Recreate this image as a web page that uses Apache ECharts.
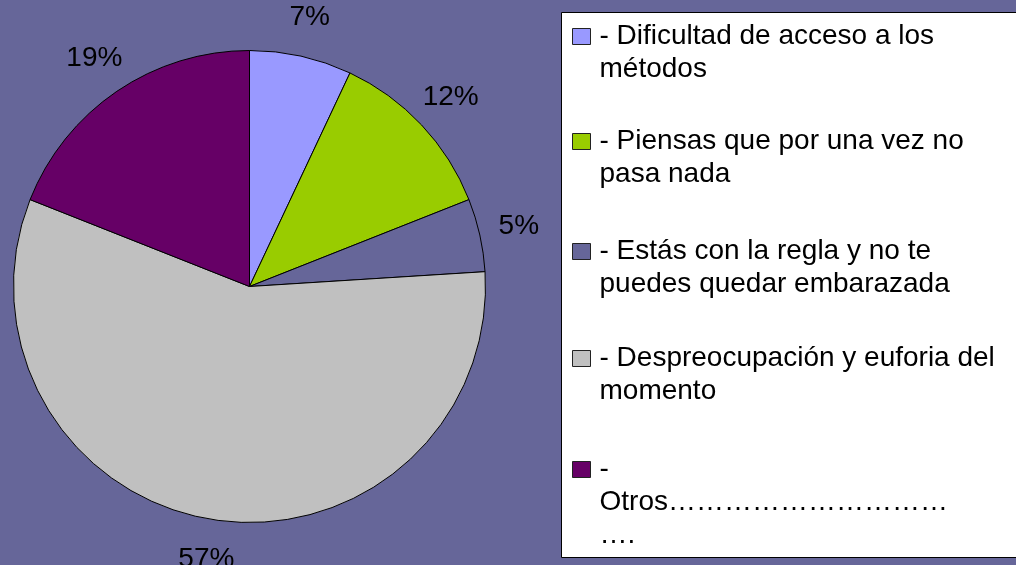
<!DOCTYPE html>
<html>
<head>
<meta charset="utf-8">
<script src="https://cdn.jsdelivr.net/npm/echarts@6/dist/echarts.min.js"></script>
<style>
  html, body { margin: 0; padding: 0; background: #666699; }
  #chart { width: 1016px; height: 565px; }
</style>
</head>
<body>
<div id="chart"></div>
<script>
// slice names, as they wrap in the legend box
let categories = [
    '- Dificultad de acceso a los\nmétodos',
    '- Piensas que por una vez no\npasa nada',
    '- Estás con la regla y no te\npuedes quedar embarazada',
    '- Despreocupación y euforia del\nmomento',
    '-\nOtros\u2026\u2026\u2026\u2026\u2026\u2026\u2026\u2026\u2026\u2026\n\u2026.'
]
let values = [7, 12, 5, 57, 19]
let colors = ['#9999FF', '#99CC00', '#666699', '#C0C0C0', '#660066']

// legend layout (one legend per entry so the square sits on the first line)
let legendTops = [19.5, 124.5, 234.5, 341.5, 452.5]
let lineH = 33

let font = '"Liberation Sans", Arial, sans-serif'

function legendIcon(lines) {
    // square on the first line, box stretched to the full text height
    let h = lines * lineH
    return 'path://M0,0M0,8.5L18,8.5L18,24.5L0,24.5ZM22,' + h
}

let pieData = categories.map(function(name, i) {
    return { name: name, value: values[i], itemStyle: { color: colors[i] } }
})

let legends = categories.map(function(name, i) {
    let lines = name.split('\n').length
    return {
        left: 572,
        top: legendTops[i],
        orient: 'vertical',
        padding: 0,
        itemWidth: 22,
        itemHeight: lines * lineH,
        selectedMode: false,
        itemStyle: { borderColor: '#222', borderWidth: 1 },
        textStyle: { fontFamily: font, fontSize: 28, color: '#000', lineHeight: lineH },
        data: [{ name: name, icon: legendIcon(lines) }]
    }
})

let chart = echarts.init(document.getElementById('chart'))

let option = {
    backgroundColor: '#666699',
    animation: false,
    graphic: [{
        type: 'rect',
        z: 0,
        shape: { x: 561.5, y: 12.5, width: 490, height: 545 },
        style: { fill: '#fff', stroke: '#000', lineWidth: 1 }
    }],
    legend: legends,
    series: [{
        type: 'pie',
        center: [249.5, 286.5],
        radius: 236,
        startAngle: 90,
        clockwise: true,
        silent: true,
        itemStyle: { borderColor: '#000', borderWidth: 1 },
        label: { show: false },
        labelLine: { show: false },
        emphasis: { disabled: true },
        data: pieData
    }, {
        // transparent ring that only carries the percentage labels
        type: 'pie',
        center: [249.5, 286.5],
        radius: [262, 284],
        startAngle: 90,
        clockwise: true,
        silent: true,
        percentPrecision: 0,
        itemStyle: { color: 'transparent', borderWidth: 0 },
        label: {
            show: true,
            position: 'inside',
            formatter: '{d}%',
            fontFamily: font,
            fontSize: 28,
            color: '#000'
        },
        labelLine: { show: false },
        emphasis: { disabled: true },
        data: categories.map(function(name, i) {
            return { name: name, value: values[i] }
        })
    }]
}

chart.setOption(option)
</script>
</body>
</html>
